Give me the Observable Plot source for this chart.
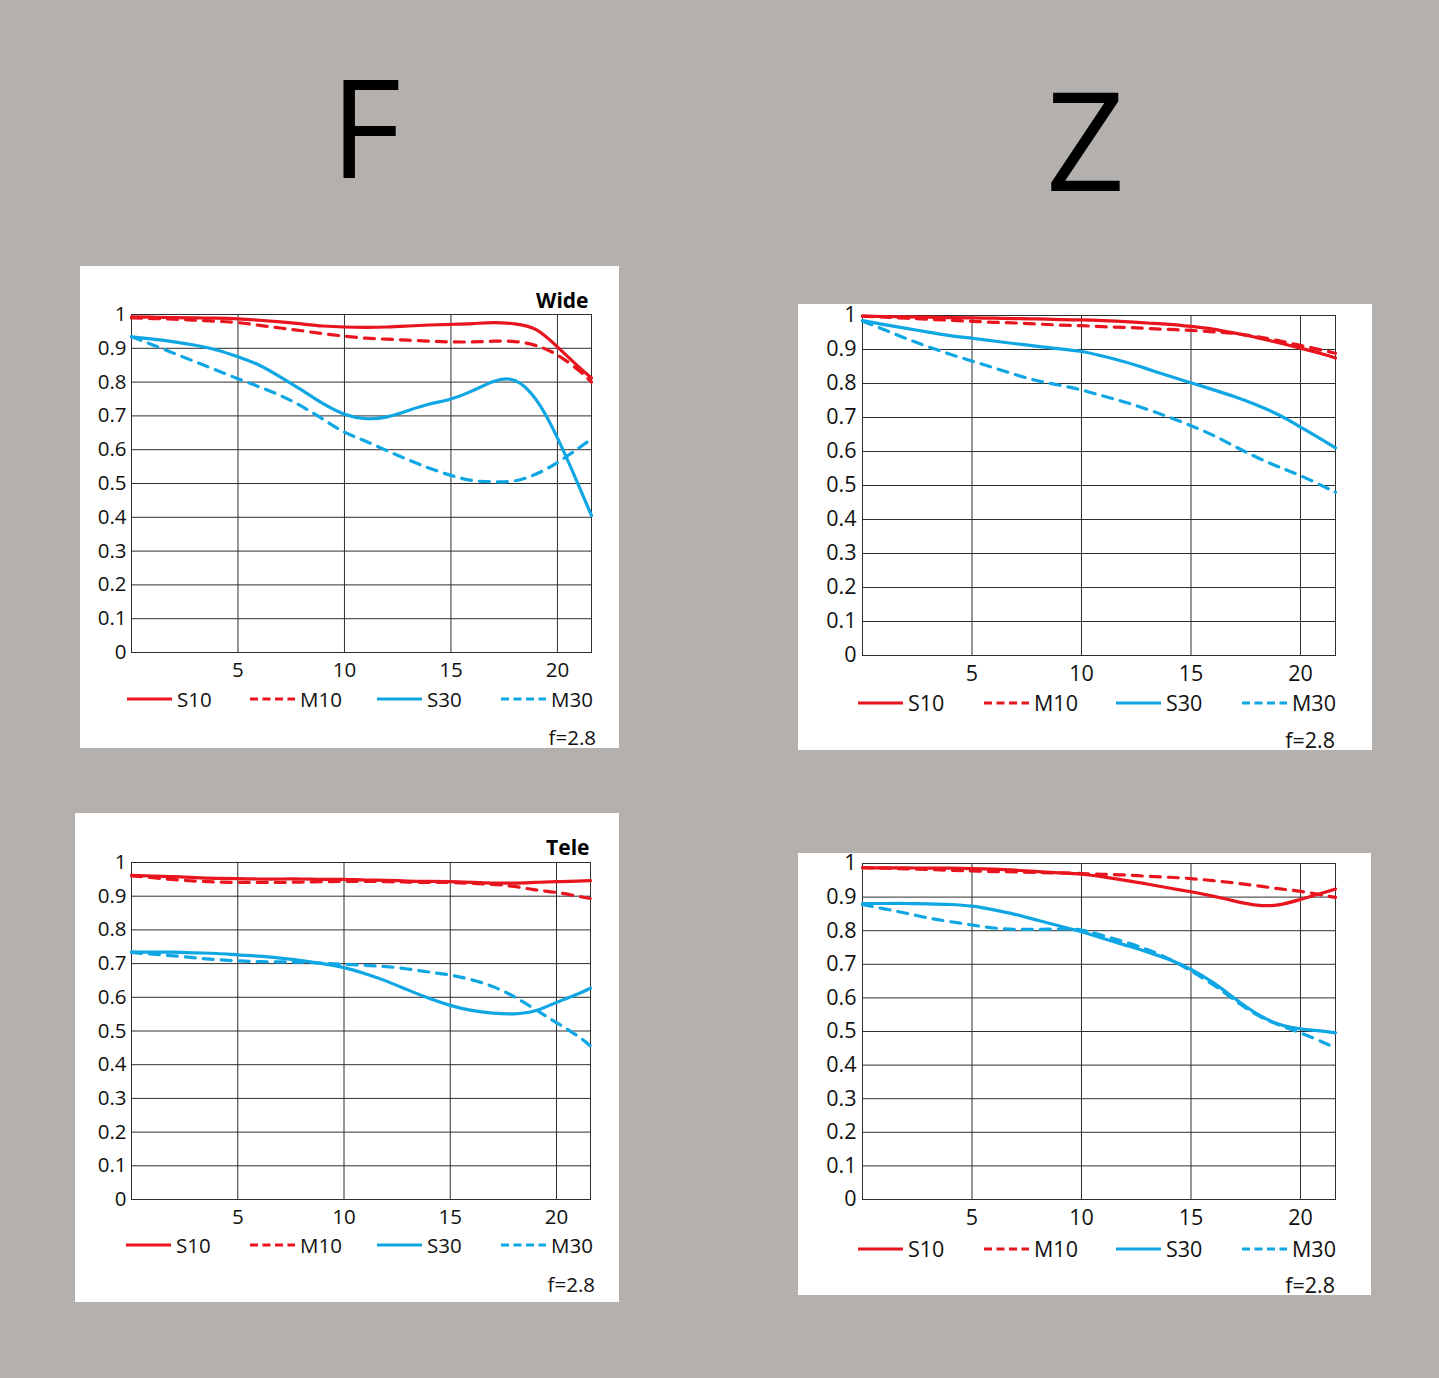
<!DOCTYPE html>
<html>
<head>
<meta charset="utf-8">
<script src="https://cdn.jsdelivr.net/npm/d3@7"></script>
<script src="https://cdn.jsdelivr.net/npm/@observablehq/plot@0.6"></script>
<style>
  html, body { margin: 0; padding: 0; }
  body { background: #b3b0ae; width: 1439px; height: 1378px; position: relative; overflow: hidden; font-family: "Open Sans", sans-serif; color: #111; }
  .panel { position: absolute; background: #fff; }
  .panel svg { display: block; }
  .abs { position: absolute; white-space: nowrap; }
  .big { position: absolute; font-family: "Open Sans", sans-serif; font-size: 138px; line-height: 138px; color: #000; }
  .leg { position: absolute; display: flex; align-items: center; white-space: nowrap; }
  .leg svg { display: block; margin-right: 5px; }
</style>
</head>
<body>
<div class="big" id="tF" style="left:330px; top:55px;">F</div>
<div class="big" id="tZ" style="left:1046px; top:68px;">Z</div>
<script>
// ---------- data ----------
const xPos = [0,1,2,3,4,5,6,7,8,9,10,11,12,13,14,15,16,17,18,19,20,21,21.6];
const xTicks = [5, 10, 15, 20];
const yTicks = [0, 0.1, 0.2, 0.3, 0.4, 0.5, 0.6, 0.7, 0.8, 0.9, 1];
const seriesNames = ["S10", "M10", "S30", "M30"];
const seriesColors = ["#e8141e", "#e8141e", "#0fa6e4", "#0fa6e4"];
const seriesDashed = [false, true, false, true];
const panelTitles = ["Wide", "", "Tele", ""];
const caption = "f=2.8";

// F – Wide
const fWideS10 = [0.993,0.992,0.991,0.990,0.989,0.987,0.983,0.978,0.972,0.966,0.963,0.962,0.963,0.966,0.969,0.971,0.973,0.976,0.972,0.955,0.904,0.845,0.812];
const fWideM10 = [0.990,0.988,0.986,0.983,0.980,0.976,0.968,0.960,0.952,0.943,0.936,0.930,0.927,0.924,0.921,0.919,0.919,0.921,0.920,0.908,0.880,0.835,0.800];
const fWideS30 = [0.934,0.927,0.919,0.909,0.895,0.875,0.850,0.815,0.776,0.736,0.705,0.692,0.697,0.716,0.735,0.750,0.774,0.802,0.805,0.748,0.635,0.494,0.405];
const fWideM30 = [0.934,0.910,0.885,0.860,0.835,0.810,0.786,0.760,0.728,0.690,0.652,0.625,0.597,0.570,0.545,0.524,0.509,0.505,0.508,0.528,0.562,0.605,0.632];

// Z – Wide
const zWideS10 = [0.998,0.997,0.996,0.995,0.994,0.993,0.992,0.991,0.990,0.988,0.987,0.985,0.982,0.978,0.974,0.968,0.960,0.948,0.935,0.920,0.904,0.887,0.875];
const zWideM10 = [0.998,0.995,0.992,0.989,0.986,0.983,0.980,0.978,0.975,0.972,0.970,0.967,0.965,0.962,0.959,0.956,0.952,0.947,0.938,0.926,0.912,0.898,0.889];
const zWideS30 = [0.985,0.973,0.962,0.951,0.941,0.933,0.925,0.917,0.909,0.902,0.894,0.880,0.863,0.843,0.822,0.802,0.782,0.761,0.737,0.708,0.672,0.634,0.611];
const zWideM30 = [0.983,0.958,0.932,0.908,0.886,0.866,0.846,0.826,0.808,0.795,0.781,0.763,0.745,0.724,0.701,0.676,0.648,0.615,0.583,0.555,0.529,0.499,0.480];

// F – Tele
const fTeleS10 = [0.962,0.960,0.958,0.955,0.953,0.952,0.951,0.951,0.951,0.950,0.950,0.948,0.947,0.945,0.944,0.943,0.941,0.939,0.939,0.941,0.943,0.945,0.946];
const fTeleM10 = [0.960,0.955,0.949,0.945,0.942,0.941,0.941,0.941,0.942,0.943,0.944,0.944,0.943,0.942,0.941,0.941,0.938,0.935,0.929,0.919,0.911,0.900,0.893];
const fTeleS30 = [0.735,0.734,0.734,0.732,0.730,0.726,0.722,0.716,0.709,0.700,0.688,0.670,0.648,0.622,0.597,0.576,0.561,0.553,0.551,0.560,0.585,0.610,0.627];
const fTeleM30 = [0.733,0.728,0.723,0.717,0.712,0.708,0.706,0.705,0.704,0.701,0.698,0.695,0.691,0.684,0.675,0.666,0.652,0.632,0.602,0.564,0.525,0.485,0.455];

// Z – Tele
const zTeleS10 = [0.988,0.987,0.987,0.986,0.986,0.985,0.983,0.980,0.976,0.972,0.968,0.960,0.950,0.939,0.927,0.916,0.903,0.888,0.876,0.877,0.893,0.912,0.924];
const zTeleM10 = [0.988,0.986,0.984,0.982,0.980,0.978,0.976,0.975,0.973,0.972,0.970,0.968,0.966,0.962,0.959,0.955,0.949,0.942,0.934,0.925,0.917,0.906,0.899];
const zTeleS30 = [0.881,0.881,0.881,0.880,0.878,0.873,0.862,0.848,0.831,0.814,0.797,0.777,0.757,0.737,0.714,0.685,0.646,0.598,0.553,0.522,0.508,0.501,0.496];
const zTeleM30 = [0.878,0.865,0.852,0.838,0.827,0.817,0.808,0.804,0.804,0.805,0.802,0.785,0.766,0.744,0.716,0.680,0.640,0.593,0.550,0.520,0.496,0.469,0.451];

// ---------- layout ----------
const panels = [
  { series: [fWideS10, fWideM10, fWideS30, fWideM30], title: panelTitles[0],
    box: {left: 80, top: 266, w: 539, h: 482}, m: {l: 51, r: 28, t: 48, b: 34}, svgH: 420, fs: 20.5,
    titleDx: -3, titleDy: -13.5, yPad: 5,
    leg: {xs: [127, 250, 377, 501], cy: 698.5}, cap: {right: 596, cy: 736.5} },
  { series: [zWideS10, zWideM10, zWideS30, zWideM30], title: panelTitles[1],
    box: {left: 798, top: 304, w: 574, h: 446}, m: {l: 64, r: 37, t: 11, b: 34}, svgH: 385, fs: 21.5,
    titleDx: 0, titleDy: 0, yPad: 6,
    leg: {xs: [858, 984, 1116, 1242], cy: 703}, cap: {right: 1335, cy: 740} },
  { series: [fTeleS10, fTeleM10, fTeleS30, fTeleM30], title: panelTitles[2],
    box: {left: 75, top: 813, w: 544, h: 489}, m: {l: 56, r: 29, t: 49, b: 34}, svgH: 420, fs: 20.5,
    titleDx: -1, titleDy: -14.5, yPad: 5,
    leg: {xs: [126, 250, 377, 501], cy: 1245}, cap: {right: 595, cy: 1283.5} },
  { series: [zTeleS10, zTeleM10, zTeleS30, zTeleM30], title: panelTitles[3],
    box: {left: 798, top: 853, w: 573, h: 442}, m: {l: 64, r: 36, t: 10, b: 34}, svgH: 380, fs: 21.5,
    titleDx: 0, titleDy: 0, yPad: 6,
    leg: {xs: [858, 984, 1116, 1242], cy: 1248.5}, cap: {right: 1335, cy: 1285} }
];

const gridColor = "#2e2e2e";
const lineW = 3.2;
const curveDash = "10,8";
const legendDash = "8,4.5";
const fmtY = d => d === 0 ? "0" : d === 1 ? "1" : d.toFixed(1);

for (const p of panels) {
  const rows = [];
  p.series.forEach((arr, si) => arr.forEach((v, i) => rows.push({x: xPos[i], y: v, s: seriesNames[si], si})));
  const order = [3, 2, 1, 0];
  const lineMarks = order.map(si => Plot.line(rows.filter(r => r.si === si), {
    x: "x", y: "y", stroke: seriesColors[si], strokeWidth: lineW,
    strokeDasharray: seriesDashed[si] ? curveDash : null,
    curve: "natural", strokeLinejoin: "round"
  }));
  const marks = [
    Plot.ruleX(xTicks, {stroke: gridColor, strokeWidth: 1}),
    Plot.ruleY(yTicks, {stroke: gridColor, strokeWidth: 1}),
    Plot.frame({stroke: gridColor, strokeWidth: 1}),
    ...lineMarks
  ];
  if (p.title) {
    marks.push(Plot.text([p.title], {
      text: d => d, frameAnchor: "top-right", textAnchor: "end", lineAnchor: "middle",
      dx: p.titleDx, dy: p.titleDy, fontWeight: "bold", fontSize: 21, fill: "#000"
    }));
  }
  const chart = Plot.plot({
    width: p.box.w, height: p.svgH,
    marginLeft: p.m.l, marginRight: p.m.r, marginTop: p.m.t, marginBottom: p.m.b,
    style: {background: "transparent", fontFamily: '"Open Sans", sans-serif', fontSize: p.fs + "px", color: "#111", overflow: "visible"},
    x: {domain: [0, 21.6], ticks: xTicks, tickSize: 0, tickPadding: 10, label: null},
    y: {domain: [0, 1], ticks: yTicks, tickSize: 0, tickPadding: p.yPad, tickFormat: fmtY, label: null},
    marks
  });
  const div = document.createElement("div");
  div.className = "panel";
  div.style.left = p.box.left + "px";
  div.style.top = p.box.top + "px";
  div.style.width = p.box.w + "px";
  div.style.height = p.box.h + "px";
  div.appendChild(chart);
  document.body.appendChild(div);

  // legend
  seriesNames.forEach((name, si) => {
    const item = document.createElement("div");
    item.className = "leg";
    const lh = 28;
    item.style.left = p.leg.xs[si] + "px";
    item.style.top = (p.leg.cy - lh / 2) + "px";
    item.style.height = lh + "px";
    item.style.fontSize = p.fs + "px";
    item.style.lineHeight = lh + "px";
    const ns = "http://www.w3.org/2000/svg";
    const sw = document.createElementNS(ns, "svg");
    sw.setAttribute("width", 45); sw.setAttribute("height", 8);
    const ln = document.createElementNS(ns, "line");
    ln.setAttribute("x1", 0); ln.setAttribute("x2", 45);
    ln.setAttribute("y1", 4); ln.setAttribute("y2", 4);
    ln.setAttribute("stroke", seriesColors[si]);
    ln.setAttribute("stroke-width", lineW);
    if (seriesDashed[si]) ln.setAttribute("stroke-dasharray", legendDash);
    sw.appendChild(ln);
    item.appendChild(sw);
    const t = document.createElement("span");
    t.textContent = name;
    item.appendChild(t);
    document.body.appendChild(item);
  });

  // caption
  const c = document.createElement("div");
  c.className = "abs";
  const cw = 100, clh = 28;
  c.style.left = (p.cap.right - cw) + "px";
  c.style.width = cw + "px";
  c.style.textAlign = "right";
  c.style.top = (p.cap.cy - clh / 2) + "px";
  c.style.lineHeight = clh + "px";
  c.style.fontSize = p.fs + "px";
  c.textContent = caption;
  document.body.appendChild(c);
}
</script>
</body>
</html>
